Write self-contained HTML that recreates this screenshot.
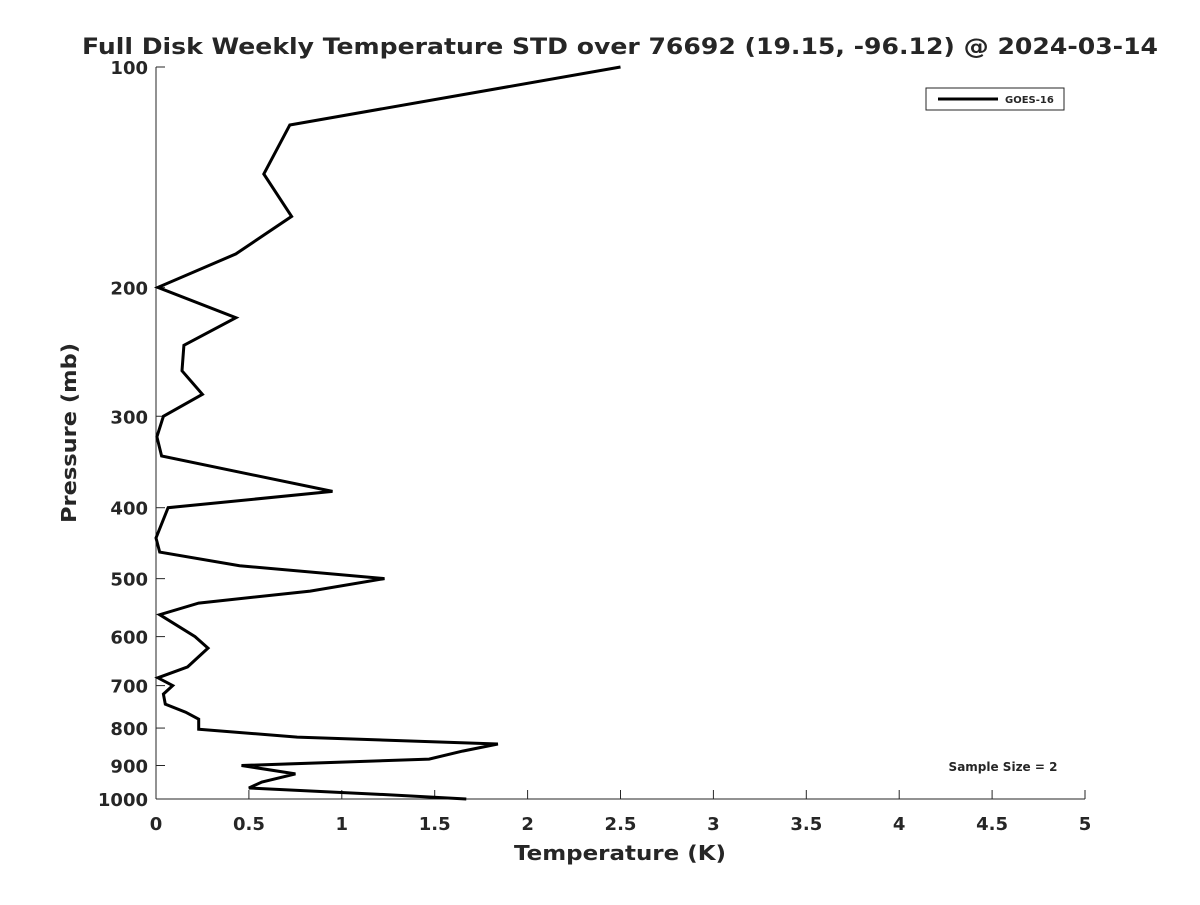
<!DOCTYPE html>
<html><head><meta charset="utf-8"><style>
body{margin:0;background:#fff;}
svg text{font-family:"DejaVu Sans","Liberation Sans",sans-serif;fill:#262626;font-weight:bold;}
</style></head><body>
<svg id="chart" width="1200" height="900" xmlns="http://www.w3.org/2000/svg">
<rect width="1200" height="900" fill="#fff"/>
<text x="620" y="54" font-size="22" text-anchor="middle" textLength="1076" lengthAdjust="spacingAndGlyphs" fill="#000">Full Disk Weekly Temperature STD over 76692 (19.15, -96.12) @ 2024-03-14</text>
<g id="axes"></g>
<text x="620" y="860" font-size="20" text-anchor="middle" textLength="212" lengthAdjust="spacingAndGlyphs">Temperature (K)</text>
<text transform="translate(76,433) rotate(-90)" font-size="20" text-anchor="middle" textLength="180" lengthAdjust="spacingAndGlyphs">Pressure (mb)</text>
<g>
<rect x="926" y="88" width="138" height="22" fill="#fff" stroke="#262626" stroke-width="1"/>
<line x1="938" y1="99" x2="998" y2="99" stroke="#000" stroke-width="3"/>
<text x="1005" y="103" font-size="10">GOES-16</text>
</g>
<text x="1003" y="771" font-size="12" text-anchor="middle" fill="#000">Sample Size = 2</text>
</svg>
<script>
const temps=[2.50,0.72,0.58,0.73,0.43,0.01,0.43,0.15,0.14,0.25,0.04,0.005,0.03,0.95,0.065,0,0.02,0.45,1.23,0.83,0.23,0.02,0.21,0.28,0.17,0.01,0.09,0.04,0.05,0.16,0.23,0.23,0.76,1.84,1.65,1.47,0.46,0.75,0.57,0.50,1.19,1.67];
const pressures=[100,120,140,160,180,200,220,240,260,280,300,320,340,380,400,440,460,480,500,520,540,560,600,622,660,683,700,719,742,761,778,803,823,841,860,882,900,924,948,966,985,1000];
const xTicks=[0,0.5,1,1.5,2,2.5,3,3.5,4,4.5,5];
const xTickLabels=["0","0.5","1","1.5","2","2.5","3","3.5","4","4.5","5"];
const yTicks=[100,200,300,400,500,600,700,800,900,1000];
const yTickLabels=["100","200","300","400","500","600","700","800","900","1000"];
const X0=156,X1=1085,Y0=67,Y1=799;
function xs(v){return X0+(v-0)/(5-0)*(X1-X0);}
function ys(p){return Y0+(Math.log10(p)-2)/(3-2)*(Y1-Y0);}
const NS="http://www.w3.org/2000/svg";
const svg=document.getElementById('chart');
const g=document.getElementById('axes');
function mk(t,a){const e=document.createElementNS(NS,t);for(const k in a)e.setAttribute(k,a[k]);return e;}
let ax=mk('line',{x1:X0,y1:Y0,x2:X0,y2:Y1,stroke:'#262626','stroke-width':1});


g.appendChild(ax);
let bx=mk('line',{x1:X0,y1:Y1,x2:X1,y2:Y1,stroke:'#262626','stroke-width':1});


g.appendChild(bx);
xTicks.forEach((v,i)=>{
 const x=xs(v);
 const t=mk('line',{x1:x,y1:Y1,x2:x,y2:Y1-9,stroke:'#262626'});
 
 
 g.appendChild(t);
 const l=mk('text',{x:x,y:Y1+31,'font-size':18,'text-anchor':'middle'});
 l.textContent=xTickLabels[i];
 
 
 g.appendChild(l);
});
yTicks.forEach((p,i)=>{
 const y=ys(p);
 const t=mk('line',{x1:X0,y1:y,x2:X0+9,y2:y,stroke:'#262626'});
 
 
 g.appendChild(t);
 const l=mk('text',{x:X0-8,y:y+7,'font-size':18,'text-anchor':'end'});
 l.textContent=yTickLabels[i];
 
 
 g.appendChild(l);
});
const pts=temps.map((t,i)=>xs(t).toFixed(1)+','+ys(pressures[i]).toFixed(1)).join(' ');
const line=mk('polyline',{points:pts,fill:'none',stroke:'#000','stroke-width':3,'stroke-linejoin':'miter'});


svg.appendChild(line);
</script>
</body></html>
